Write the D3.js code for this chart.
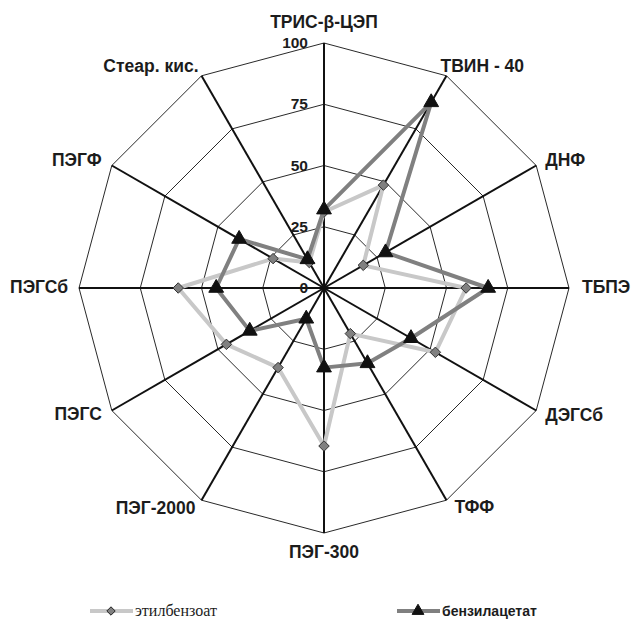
<!DOCTYPE html>
<html>
<head>
<meta charset="utf-8">
<script src="https://cdn.jsdelivr.net/npm/d3@7"></script>
<style>
  html, body { margin: 0; padding: 0; background: #fff; }
  svg { display: block; }
</style>
</head>
<body>
<svg id="chart" width="633" height="624"></svg>
<script>
// Axis names, clockwise from the top
const categories = [
  "ТРИС-β-ЦЭП", "ТВИН - 40", "ДНФ", "ТБПЭ", "ДЭГСб", "ТФФ",
  "ПЭГ-300", "ПЭГ-2000", "ПЭГС", "ПЭГСб", "ПЭГФ", "Стеар. кис."
];
const ethylbenzoate = [31, 48.5, 18.5, 58, 52.5, 21.5, 64.5, 37.5, 46, 59.5, 24, 12];
const benzylacetate = [32, 87.5, 29, 67, 41, 35.5, 32.5, 14.5, 35, 44, 40, 13.5];
const ringTicks = [0, 25, 50, 75, 100];
const seriesNames = ["этилбензоат", "бензилацетат"];

const svg = d3.select("#chart");
const cx = 324, cy = 288, R = 245;
const sans = "Liberation Sans, Arial, sans-serif";
const ink = "#1c1c1c";
const r = d3.scaleLinear().domain([0, 100]).range([0, R]);
const angle = d3.scalePoint().domain(categories).range([0, 2 * Math.PI * (categories.length - 1) / categories.length]);
const pt = (cat, v) => {
  const a = angle(cat);
  return [cx + Math.sin(a) * r(v), cy - Math.cos(a) * r(v)];
};

// Grid rings
const g = svg.append("g");
ringTicks.filter(t => t > 0).forEach(t => {
  g.append("path")
    .attr("d", d3.line()(categories.map(c => pt(c, t))) + "Z")
    .attr("fill", "none").attr("stroke", "#111").attr("stroke-width", 0.9);
});
// Spokes
categories.forEach(c => {
  const [x, y] = pt(c, 100);
  g.append("line").attr("x1", cx).attr("y1", cy).attr("x2", x).attr("y2", y)
    .attr("stroke", "#111").attr("stroke-width", 2);
});

// Ring value labels
g.selectAll("text.tick").data(ringTicks).join("text")
  .attr("class", "tick")
  .attr("x", cx - 16).attr("y", d => cy - r(d) + 1)
  .attr("text-anchor", "end").attr("dominant-baseline", "middle")
  .attr("font-family", sans)
  .attr("font-weight", "bold").attr("font-size", 15.5).attr("fill", ink)
  .text(d => d);

// Category labels: offset from the outer vertex and anchor
const labelPos = {
  "ТРИС-β-ЦЭП": [0, -20, "middle"],
  "ТВИН - 40": [-6, -8, "start"],
  "ДНФ": [9, -4, "start"],
  "ТБПЭ": [13, 0, "start"],
  "ДЭГСб": [9, 6, "start"],
  "ТФФ": [8, 8, "start"],
  "ПЭГ-300": [0, 20, "middle"],
  "ПЭГ-2000": [-6, 9, "end"],
  "ПЭГС": [-10, 5, "end"],
  "ПЭГСб": [-11, 0, "end"],
  "ПЭГФ": [-10, -4, "end"],
  "Стеар. кис.": [-3, -8, "end"]
};
categories.forEach(c => {
  const [x, y] = pt(c, 100);
  const [dx, dy, anchor] = labelPos[c];
  g.append("text")
    .attr("x", x + dx).attr("y", y + dy)
    .attr("text-anchor", anchor).attr("dominant-baseline", "middle")
    .attr("font-family", sans)
    .attr("font-weight", "bold").attr("font-size", 17.5).attr("fill", ink)
    .text(c);
});

const line = d3.line();
const diamond = d3.symbol().type(d3.symbolDiamond2).size(70);
const triangle = d3.symbol().type(d3.symbolTriangle).size(95);

function drawSeries(values, color, marker, mfill, mstroke) {
  const pts = categories.map((c, i) => pt(c, values[i]));
  svg.append("path").attr("d", line(pts) + "Z")
    .attr("fill", "none").attr("stroke", color).attr("stroke-width", 4)
    .attr("stroke-linejoin", "round");
  svg.append("g").selectAll("path").data(pts).join("path")
    .attr("transform", d => `translate(${d[0]},${d[1]})`)
    .attr("d", marker).attr("fill", mfill).attr("stroke", mstroke).attr("stroke-width", 1);
}
drawSeries(ethylbenzoate, "#c8c8c8", diamond, "#808080", "#333");
drawSeries(benzylacetate, "#808080", triangle, "#111", "#111");

// Legend
const leg = svg.append("g");
const legendItems = [
  { name: seriesNames[0], x: 90, color: "#c8c8c8", marker: d3.symbol().type(d3.symbolDiamond2).size(45),
    fill: "#808080", stroke: "#222", font: "Liberation Serif, Times New Roman, serif", weight: "normal", size: 16 },
  { name: seriesNames[1], x: 397, color: "#808080", marker: d3.symbol().type(d3.symbolTriangle).size(60),
    fill: "#111", stroke: "#111", font: sans, weight: "bold", size: 14 }
];
legendItems.forEach(it => {
  const ly = 611;
  leg.append("line").attr("x1", it.x).attr("x2", it.x + 43).attr("y1", ly).attr("y2", ly)
    .attr("stroke", it.color).attr("stroke-width", 4);
  leg.append("path").attr("transform", `translate(${it.x + 21},${ly})`)
    .attr("d", it.marker).attr("fill", it.fill).attr("stroke", it.stroke).attr("stroke-width", 1);
  leg.append("text").attr("x", it.x + 45).attr("y", ly + 1)
    .attr("dominant-baseline", "middle")
    .attr("font-family", it.font).attr("font-weight", it.weight).attr("font-size", it.size)
    .attr("fill", ink).text(it.name);
});
</script>
</body>
</html>
